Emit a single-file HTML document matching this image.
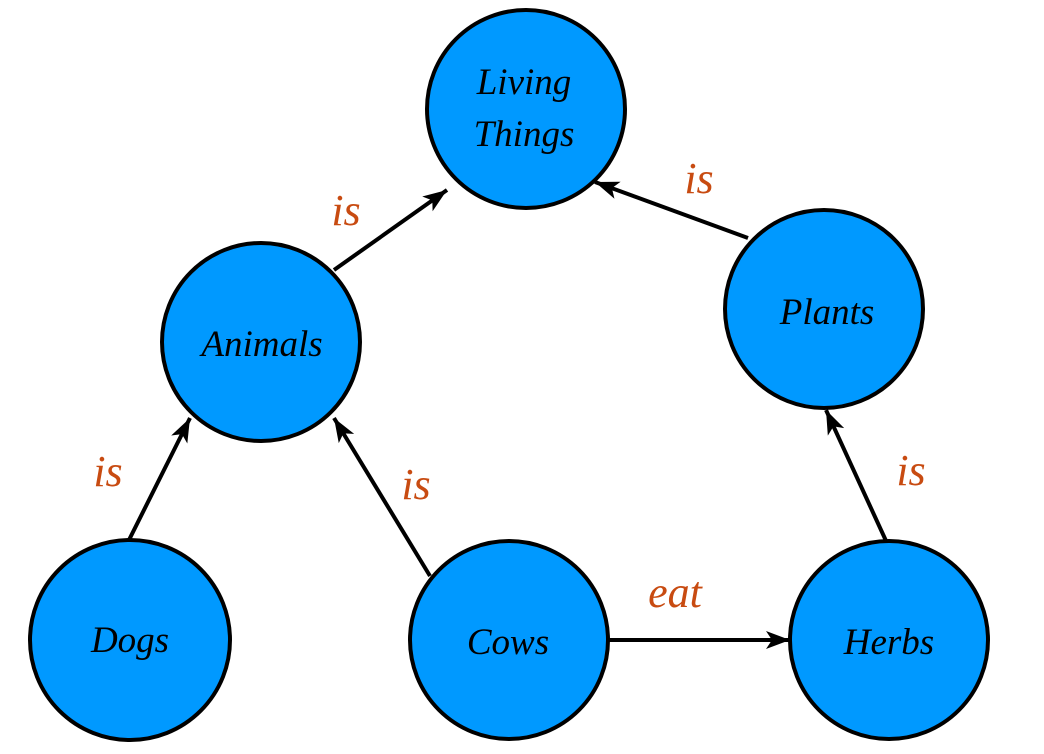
<!DOCTYPE html>
<html><head><meta charset="utf-8"><style>
html,body{margin:0;padding:0;background:#fff;}
svg{display:block;}
</style></head><body>
<svg width="1044" height="754" viewBox="0 0 1044 754" xmlns="http://www.w3.org/2000/svg">
<defs>
<marker id="a" markerWidth="26" markerHeight="20" refX="24" refY="10" orient="auto" markerUnits="userSpaceOnUse">
<path d="M0,1 L24,10 L0,19 L6,10 Z" fill="#000"/>
</marker>
</defs>
<g stroke="#000" stroke-width="4" fill="none">
<line x1="334" y1="270" x2="447" y2="190" marker-end="url(#a)"/>
<line x1="748" y1="238" x2="595" y2="182" marker-end="url(#a)"/>
<line x1="128" y1="542" x2="190" y2="418" marker-end="url(#a)"/>
<line x1="430" y1="576" x2="334" y2="418" marker-end="url(#a)"/>
<line x1="887" y1="543" x2="826" y2="410" marker-end="url(#a)"/>
<line x1="608" y1="640" x2="790" y2="640" marker-end="url(#a)"/>
</g>
<g fill="#0099ff" stroke="#000" stroke-width="4">
<circle cx="526" cy="109" r="99"/>
<circle cx="261" cy="342" r="99"/>
<circle cx="824" cy="309" r="99"/>
<circle cx="130" cy="640" r="100"/>
<circle cx="509" cy="640" r="99"/>
<circle cx="889" cy="640" r="99"/>
</g>
<g font-family="'Liberation Serif', 'Times New Roman', serif" font-style="italic" font-size="37" fill="#000" text-anchor="middle">
<text x="524" y="94">Living</text>
<text x="524" y="146">Things</text>
<text x="262" y="356">Animals</text>
<text x="827" y="324">Plants</text>
<text x="130" y="652">Dogs</text>
<text x="508" y="654">Cows</text>
<text x="889" y="654">Herbs</text>
</g>
<g font-family="'Liberation Serif', 'Times New Roman', serif" font-style="italic" font-size="44" fill="#c84b11" text-anchor="middle">
<text x="346" y="225">is</text>
<text x="699" y="193">is</text>
<text x="108" y="486">is</text>
<text x="416" y="499">is</text>
<text x="911" y="485">is</text>
<text x="675" y="607">eat</text>
</g>
</svg>
</body></html>
